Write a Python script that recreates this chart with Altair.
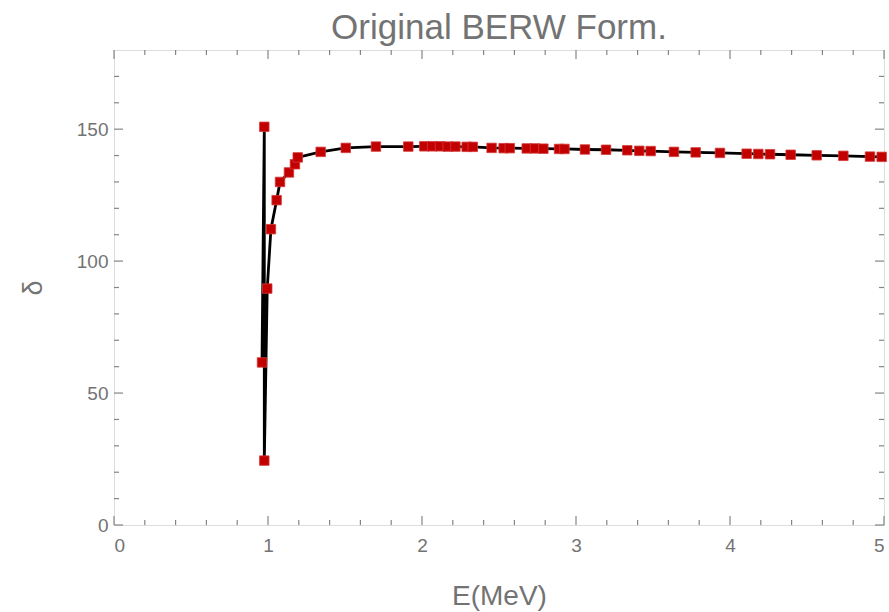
import altair as alt
import pandas as pd

# data
E = [0.961, 0.976, 0.976, 0.995, 1.019, 1.056, 1.078, 1.136, 1.175, 1.193,
     1.342, 1.505, 1.701, 1.911, 2.015, 2.066, 2.117, 2.167, 2.217, 2.29,
     2.33, 2.452, 2.53, 2.57, 2.68, 2.734, 2.788, 2.89, 2.925, 3.058,
     3.195, 3.333, 3.411, 3.485, 3.636, 3.777, 3.935, 4.108, 4.184, 4.26,
     4.394, 4.563, 4.736, 4.909, 4.985]
delta = [61.6, 150.9, 24.4, 89.6, 112.1, 123.1, 130.0, 133.6, 136.7, 139.3,
         141.4, 142.9, 143.4, 143.4, 143.5, 143.5, 143.5, 143.4, 143.4, 143.3,
         143.3, 142.9, 142.8, 142.8, 142.7, 142.7, 142.6, 142.5, 142.5, 142.3,
         142.2, 142.0, 141.8, 141.7, 141.4, 141.2, 141.0, 140.7, 140.6, 140.5,
         140.3, 140.1, 139.9, 139.6, 139.5]

x_major = [0, 1, 2, 3, 4, 5]
x_minor = [0.2, 0.4, 0.6, 0.8, 1.2, 1.4, 1.6, 1.8, 2.2, 2.4, 2.6, 2.8,
           3.2, 3.4, 3.6, 3.8, 4.2, 4.4, 4.6, 4.8]
y_major = [0, 50, 100, 150]
y_minor = [10, 20, 30, 40, 60, 70, 80, 90, 110, 120, 130, 140, 160, 170]

W, H = 770, 475
GRAY = "#737373"
FRAME = "#858585"
FONT = "Liberation Sans, Arial"

df = pd.DataFrame({"E": E, "delta": delta, "i": list(range(len(E)))})

xs = alt.Scale(domain=[0, 5], nice=False, zero=False)
ys = alt.Scale(domain=[0, 180], nice=False, zero=False)

xax = alt.Axis(values=x_major, format="d", grid=False, ticks=False, domain=False,
               labelPadding=11, labelFontSize=19, labelColor=GRAY, labelFont=FONT,
               title="E(MeV)", titleFontSize=28, titleFontWeight="normal",
               titleColor=GRAY, titleFont=FONT, titlePadding=27)
yax = alt.Axis(values=y_major, format="d", grid=False, ticks=False, domain=False,
               labelPadding=6, labelFontSize=19, labelColor=GRAY, labelFont=FONT,
               title="δ", titleFontSize=27, titleFontWeight="normal",
               titleColor=GRAY, titleFont=FONT, titlePadding=29)

base = alt.Chart(df)

line = base.mark_line(color="black", strokeWidth=2.8).encode(
    x=alt.X("E:Q", scale=xs, axis=xax),
    y=alt.Y("delta:Q", scale=ys, axis=yax),
    order="i:Q",
)
pts = base.mark_square(size=90, color="#c20000", opacity=1,
                       stroke="#d43a3a", strokeWidth=0.8).encode(
    x=alt.X("E:Q", scale=xs),
    y=alt.Y("delta:Q", scale=ys),
)


def xticks(vals, length):
    d = alt.Chart(pd.DataFrame({"v": vals}))
    bot = d.mark_rule(color=FRAME, strokeWidth=1.2).encode(
        x=alt.X("v:Q", scale=xs), y=alt.value(H), y2=alt.value(H - length))
    top = d.mark_rule(color=FRAME, strokeWidth=1.2).encode(
        x=alt.X("v:Q", scale=xs), y=alt.value(0), y2=alt.value(length))
    return [bot, top]


def yticks(vals, length):
    d = alt.Chart(pd.DataFrame({"v": vals}))
    left = d.mark_rule(color=FRAME, strokeWidth=1.2).encode(
        y=alt.Y("v:Q", scale=ys), x=alt.value(0), x2=alt.value(length))
    right = d.mark_rule(color=FRAME, strokeWidth=1.2).encode(
        y=alt.Y("v:Q", scale=ys), x=alt.value(W), x2=alt.value(W - length))
    return [left, right]


layers = (xticks(x_major, 9) + xticks(x_minor, 5) +
          yticks(y_major, 9) + yticks(y_minor, 5) + [line, pts])

chart = alt.layer(*layers).properties(
    width=W, height=H,
    title=alt.TitleParams("Original BERW Form.", fontSize=35, font=FONT,
                          fontWeight="normal", color=GRAY, anchor="middle",
                          offset=3),
    autosize=alt.AutoSizeParams(type="none"),
    padding={"left": 114, "top": 50, "right": 5, "bottom": 87},
).configure_view(stroke=FRAME, strokeWidth=1.4).configure(background="white")

chart.save("out.html", embed_options={"renderer": "svg", "actions": False})
